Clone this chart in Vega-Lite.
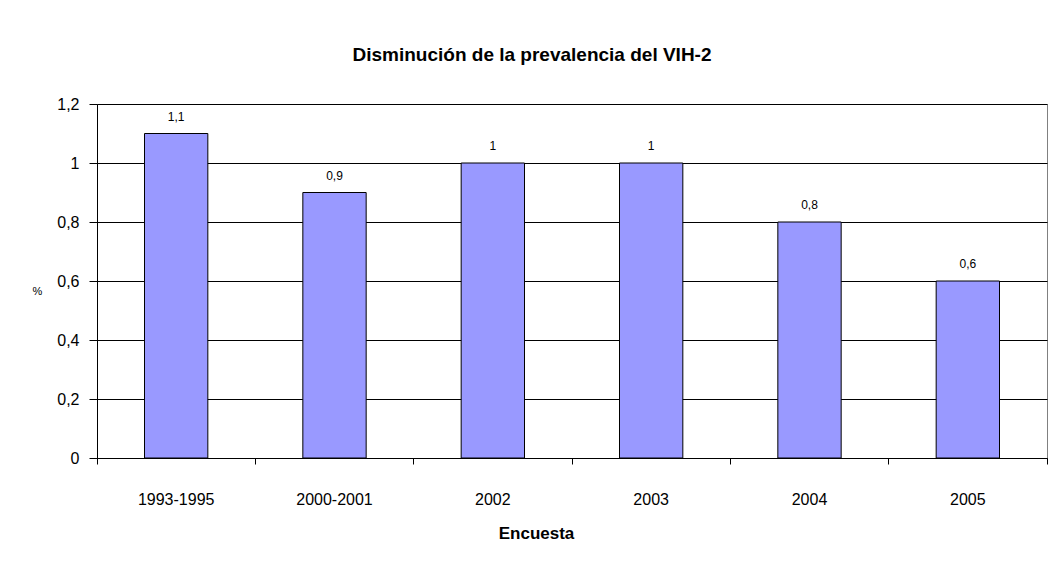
{
  "$schema": "https://vega.github.io/schema/vega-lite/v6.json",
  "autosize": "none",
  "width": 950,
  "height": 354,
  "padding": {"left": 97, "top": 104, "right": 5, "bottom": 109},
  "background": "white",
  "config": {
    "locale": {"number": {"decimal": ",", "thousands": ".", "grouping": [3], "currency": ["", " €"]}},
    "font": "Liberation Sans",
    "view": {"stroke": "#808080", "strokeWidth": 1}
  },
  "title": {
    "text": "Disminución de la prevalencia del VIH-2",
    "fontSize": 19,
    "fontWeight": "bold",
    "color": "#000",
    "anchor": "middle",
    "frame": "group",
    "dx": -40,
    "offset": 31
  },
  "data": {
    "values": [
      {"encuesta": "1993-1995", "valor": 1.1},
      {"encuesta": "2000-2001", "valor": 0.9},
      {"encuesta": "2002", "valor": 1.0},
      {"encuesta": "2003", "valor": 1.0},
      {"encuesta": "2004", "valor": 0.8},
      {"encuesta": "2005", "valor": 0.6}
    ]
  },
  "encoding": {
    "x": {
      "field": "encuesta",
      "type": "nominal",
      "sort": null,
      "scale": {"paddingInner": 0, "paddingOuter": 0},
      "axis": {
        "title": "Encuesta",
        "titleFontSize": 17,
        "titleFontWeight": "bold",
        "titleColor": "#000",
        "titleX": 439,
        "titleY": 75,
        "titleAlign": "center",
        "titleBaseline": "middle",
        "labelAngle": 0,
        "labelFontSize": 16,
        "labelColor": "#000",
        "labelPadding": 27,
        "bandPosition": 1,
        "tickExtra": true,
        "tickSize": 6,
        "tickColor": "#000",
        "domainColor": "#000",
        "grid": false
      }
    },
    "y": {
      "field": "valor",
      "type": "quantitative",
      "scale": {"domain": [0, 1.2], "nice": false},
      "axis": {
        "values": [0, 0.2, 0.4, 0.6, 0.8, 1.0, 1.2],
        "format": "~g",
        "title": "%",
        "titleAngle": 0,
        "titleFontSize": 11,
        "titleFontWeight": "normal",
        "titleColor": "#000",
        "titleX": -60,
        "titleY": 187,
        "titleAlign": "center",
        "titleBaseline": "middle",
        "labelFontSize": 16,
        "labelColor": "#000",
        "labelPadding": 10,
        "tickSize": 8,
        "tickColor": "#000",
        "domainColor": "#000",
        "grid": true,
        "gridColor": "#000",
        "gridOpacity": 1
      }
    }
  },
  "layer": [
    {
      "mark": {"type": "bar", "width": {"band": 0.4}, "fill": "#9999FF", "stroke": "#000", "strokeWidth": 1}
    },
    {
      "mark": {"type": "text", "baseline": "bottom", "dy": -10, "fontSize": 12, "color": "#000"},
      "encoding": {
        "text": {"field": "valor", "type": "quantitative", "format": "~g"}
      }
    }
  ]
}
